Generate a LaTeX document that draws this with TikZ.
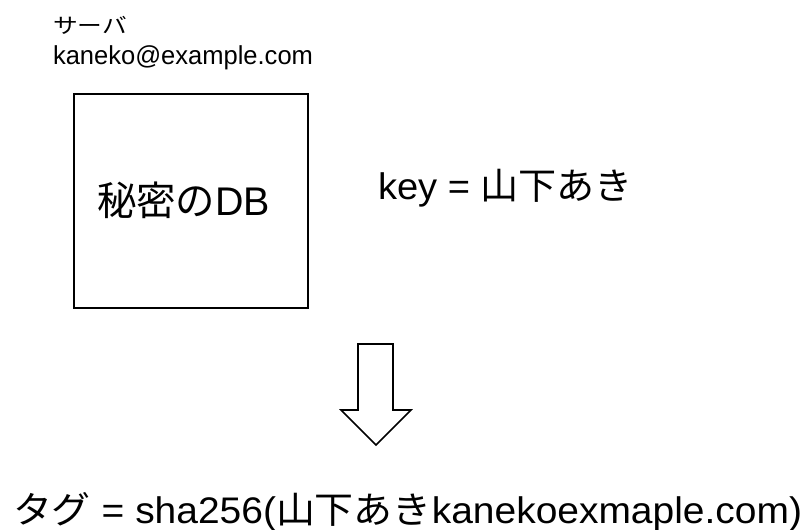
\documentclass[tikz,border=0pt]{standalone}
\usepackage{fontspec}
\usepackage{graphicx}
\setmainfont{Liberation Sans}
\newfontfamily\jp{Noto Sans CJK JP}
\tikzset{
  lbl/.style={anchor=base west, inner sep=0pt, outer sep=0pt},
  dbbox/.style={draw=black, line width=1.8pt},
  bigarrow/.style={draw=black, line width=1.6pt, line join=miter, fill=white}
}
\begin{document}
\begin{tikzpicture}[x=1pt,y=-1pt]
\useasboundingbox (0,0) rectangle (812,530);
\node[lbl, font=\fontsize{21}{24}\selectfont] (srv) at (53,34) {\resizebox{74pt}{\height}{\jp サーバ}};
\node[lbl, font=\fontsize{26}{30}\selectfont] (mail) at (53,64) {\resizebox{260pt}{\height}{kaneko@example.com}};
\node[dbbox, minimum width=234pt, minimum height=214pt, inner sep=0pt] (db) at (191,201) {};
\node[lbl, font=\fontsize{40}{44}\selectfont] (dbl) at (97,215) {\resizebox{173pt}{\height}{{\jp 秘密の}DB}};
\node[lbl, font=\fontsize{37}{42}\selectfont] (key) at (378,199) {\resizebox{255pt}{\height}{key = {\jp 山下あき}}};
\draw[bigarrow] (358,344) -- (393,344) -- (393,410) -- (411,410) -- (376,445) -- (341,410) -- (358,410) -- cycle;
\node[lbl, font=\fontsize{37}{42}\selectfont] (tag) at (13,523) {\resizebox{789pt}{\height}{{\jp タグ} = sha256({\jp 山下あき}kanekoexmaple.com)}};
\end{tikzpicture}
\end{document}
